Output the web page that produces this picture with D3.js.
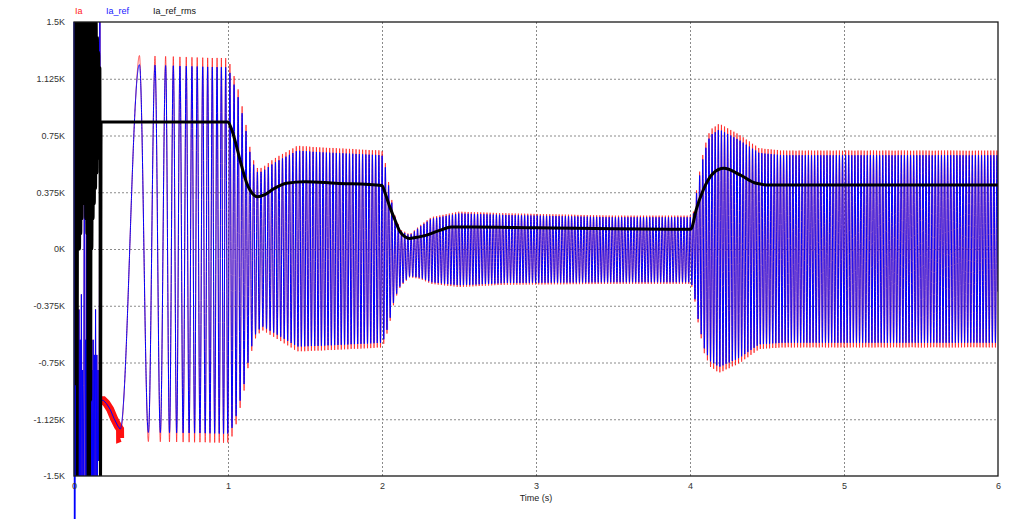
<!DOCTYPE html>
<html><head><meta charset="utf-8">
<script src="https://cdn.jsdelivr.net/npm/d3@7"></script>
<style>
body{margin:0;background:#fff;}
svg{display:block;font-family:Arial,"Liberation Sans",sans-serif;}
</style>
</head><body>
<svg id="c" width="1024" height="519"></svg>
<script>
// ---------- data ----------
const seriesNames = ["Ia", "Ia_ref", "Ia_ref_rms"];
const xTickValues = [0, 1, 2, 3, 4, 5, 6];
const xTickLabels = ["0", "1", "2", "3", "4", "5", "6"];
const yTickValues = [-1.5, -1.125, -0.75, -0.375, 0, 0.375, 0.75, 1.125, 1.5];
const yTickLabels = ["-1.5K", "-1.125K", "-0.75K", "-0.375K", "0K", "0.375K", "0.75K", "1.125K", "1.5K"];
const xTitle = "Time (s)";

// start-up transient (kA), sampled every 4 ms from t = 0
const earlyStep = 0.004;
const earlyRefV = [1.6, -3.5, -0.9, -1.6, -0.5, -1.6, -0.8, -1.6, -0.4, -1.5, -0.6, -1.6, -0.3, -1.5, -0.8, -1.6,
                   -0.9, 1.6, -1.6, -0.6, -1.5, 1.6, -1.6, -0.5, -1.6, -0.8, -1.5, -0.3, -1.6, -0.8, -1.5, -0.6,
                   -1.6, -0.7, -1.5, -0.4, -1.6, -0.7, -1.5, -0.8, -1.4, -0.9, 1.6, -1.6, -1.0];
const earlyRmsV = [1.6, -1.6, 1.6, -1.6, 1.6, -1.6, 1.6, 0.1, 1.6, 0.0, 1.6, 0.1, 1.6, 0.2, 1.6, 0.3,
                   1.6, 0.4, 1.6, 0.2, 1.6, 0.1, 1.6, -1.6, 1.6, -1.6, 1.6, -1.0, 1.6, 0.0, 1.6, 0.2,
                   1.6, 0.3, 1.6, 0.4, 1.5, 0.5, 1.4, 0.6, 1.3, 0.7, 1.2, -1.6];

// slow segment of the current before oscillation starts
const iaEarlyT = [0.176, 0.19, 0.21, 0.235, 0.26, 0.285, 0.299];
const iaEarlyV = [-1.0, -1.0, -1.02, -1.06, -1.12, -1.17, -1.19];

// time of each read peak (cycle count) during the acceleration
const cycT = [0.299, 0.425, 0.483, 0.526, 0.595, 0.645, 0.688, 0.729, 0.766, 0.800, 0.836, 0.868, 0.898, 0.929, 0.957, 0.985];
const cycN = [-0.5, 0, 0.5, 1, 2, 3, 4, 5, 6, 7, 8, 9, 10, 11, 12, 13];
// electrical frequency afterwards (Hz)
const freqT = [0.985, 1.2, 1.5, 2.5, 6.0];
const freqHz = [36, 42, 46, 49, 50];

// envelope of the current (kA)
const envT = [0.299, 0.35, 1.0, 1.035, 1.07, 1.11, 1.14, 1.18, 1.22, 1.3, 1.45, 1.6, 2.0, 2.02, 2.05, 2.08, 2.12, 2.18, 2.25, 2.32,
              2.5, 2.8, 3.5, 4.0, 4.02, 4.05, 4.09, 4.13, 4.19, 4.32, 4.45, 4.6, 6.0];
const envUpper = [1.19, 1.22, 1.2, 1.1, 0.99, 0.82, 0.65, 0.51, 0.51, 0.57, 0.65, 0.64, 0.62, 0.55, 0.38, 0.22, 0.12, 0.09, 0.15, 0.2,
                  0.235, 0.225, 0.21, 0.21, 0.22, 0.42, 0.63, 0.75, 0.79, 0.72, 0.635, 0.62, 0.62];
const envLower = [-1.19, -1.21, -1.22, -1.17, -1.04, -0.87, -0.69, -0.56, -0.51, -0.555, -0.645, -0.64, -0.62, -0.58, -0.47, -0.33, -0.24, -0.18, -0.19, -0.22,
                  -0.24, -0.225, -0.22, -0.22, -0.25, -0.45, -0.65, -0.74, -0.78, -0.72, -0.63, -0.62, -0.62];
const iaTipOvershoot = 0.05;   // Ia peaks exceed Ia_ref slightly

// rms of the reference (kA)
const rmsT = [0.176, 1.0, 1.02, 1.05, 1.08, 1.12, 1.16, 1.19, 1.24, 1.3, 1.38, 1.5, 1.7, 2.0, 2.02, 2.05, 2.085, 2.12, 2.18, 2.24,
              2.3, 2.38, 2.45, 2.6, 3.0, 4.0, 4.01, 4.04, 4.086, 4.15, 4.22, 4.325, 4.43, 4.52, 6.0];
const rmsV = [0.84, 0.84, 0.8, 0.7, 0.58, 0.44, 0.365, 0.345, 0.36, 0.4, 0.435, 0.445, 0.435, 0.42, 0.37, 0.28, 0.19, 0.11, 0.07, 0.08,
              0.095, 0.125, 0.145, 0.145, 0.14, 0.13, 0.137, 0.258, 0.39, 0.5, 0.533, 0.49, 0.434, 0.423, 0.423];

// ---------- build series ----------
const lin = (ts, vs) => d3.scaleLinear().domain(ts).range(vs).clamp(true);
const upF = lin(envT, envUpper), loF = lin(envT, envLower), cycF = lin(cycT, cycN), fF = lin(freqT, freqHz);

const refPts = earlyRefV.map((v, i) => [i * earlyStep, v]);
const iaPts = earlyRefV.map((v, i) => [i * earlyStep, v]);
iaEarlyT.forEach((t, i) => { refPts.push([t, iaEarlyV[i]]); iaPts.push([t, iaEarlyV[i]]); });
const dt = 0.0004;
let c = cycN[cycN.length - 1], tp = cycT[cycT.length - 1];
for (let t = 0.299 + dt; t <= 6.0 + 1e-9; t += dt) {
  let cy;
  if (t <= tp) cy = cycF(t);
  else { c += fF((t + tp) / 2) * (t - tp); tp = t; cy = c; }
  const u = upF(t), l = loF(t), mid = (u + l) / 2, half = (u - l) / 2;
  const k = Math.cos(2 * Math.PI * cy);
  refPts.push([t, mid + half * k]);
  iaPts.push([t, mid + half * (k + iaTipOvershoot * Math.pow(k, 15))]);
}
const rmsPts = earlyRmsV.map((v, i) => [i * earlyStep, v]).concat(rmsT.map((t, i) => [t, rmsV[i]]));

// ---------- draw ----------
const L = 74, R = 998, T = 22, B = 476;
const svg = d3.select("#c");
const x = d3.scaleLinear().domain([0, 6]).range([L, R]);
const y = d3.scaleLinear().domain([-1.5, 1.5]).range([B, T]);

const defs = svg.append("defs");
defs.append("clipPath").attr("id", "plot").append("rect").attr("x", L).attr("y", T).attr("width", R - L).attr("height", B - T);
defs.append("clipPath").attr("id", "low").append("rect").attr("x", L - 1).attr("y", T).attr("width", 3).attr("height", 519 - T);

// grid
const gx = svg.append("g").attr("transform", `translate(0,${B})`)
  .call(d3.axisBottom(x).tickValues(xTickValues.slice(1, -1)).tickSize(-(B - T)).tickFormat(""));
const gy = svg.append("g").attr("transform", `translate(${L},0)`)
  .call(d3.axisLeft(y).tickValues(yTickValues.slice(1, -1)).tickSize(-(R - L)).tickFormat(""));
[gx, gy].forEach(g => {
  g.select(".domain").remove();
  g.selectAll(".tick line").attr("stroke", "#8a8a8a").attr("stroke-width", 1).attr("stroke-dasharray", "2,2");
});

const line = d3.line().x(d => x(d[0])).y(d => y(d[1]));
const plot = svg.append("g").attr("clip-path", "url(#plot)");

// Ia (red) with ripple band before oscillation
plot.append("path").attr("d", line(iaPts.filter(d => d[0] >= 0.176 && d[0] <= 0.30)))
  .attr("fill", "none").attr("stroke", "#ff1010").attr("stroke-width", 8).attr("stroke-linecap", "butt");
plot.append("path").attr("d", line(iaPts)).attr("fill", "none").attr("stroke", "#ff1010").attr("stroke-width", 0.7);
// Ia_ref (blue)
plot.append("path").attr("d", line(refPts)).attr("fill", "none").attr("stroke", "#0000ff").attr("stroke-width", 1);
svg.append("g").attr("clip-path", "url(#low)").append("path").attr("d", line(refPts.slice(0, 3)))
  .attr("fill", "none").attr("stroke", "#0000ff").attr("stroke-width", 1.2);
// rms (black)
plot.append("path").attr("d", line.curve(d3.curveMonotoneX)(rmsPts)).attr("fill", "none")
  .attr("stroke", "#000").attr("stroke-width", 3).attr("stroke-linejoin", "round");

// frame
svg.append("rect").attr("x", L).attr("y", T).attr("width", R - L).attr("height", B - T)
  .attr("fill", "none").attr("stroke", "#1a1a1a").attr("stroke-width", 1.3);

// axis labels
const ax = svg.append("g").attr("transform", `translate(0,${B})`)
  .call(d3.axisBottom(x).tickValues(xTickValues).tickSize(0).tickPadding(7).tickFormat((d, i) => xTickLabels[i]));
const ay = svg.append("g").attr("transform", `translate(${L},0)`)
  .call(d3.axisLeft(y).tickValues(yTickValues).tickSize(0).tickPadding(9).tickFormat((d, i) => yTickLabels[i]));
[ax, ay].forEach(g => {
  g.select(".domain").remove();
  g.selectAll("text").attr("font-size", 9).attr("fill", "#333").attr("font-family", "Arial, 'Liberation Sans', sans-serif");
});
svg.append("text").attr("x", (x(2.5) + x(3.5)) / 2).attr("y", 501).attr("text-anchor", "middle")
  .attr("font-size", 9).attr("fill", "#222").text(xTitle);

// legend
const legendX = [75, 106, 153];
const legendColors = ["#ff2020", "#2020ff", "#111"];
svg.selectAll("text.lg").data(seriesNames).enter().append("text").attr("class", "lg")
  .attr("x", (d, i) => legendX[i]).attr("y", 14).attr("font-size", 9)
  .attr("fill", (d, i) => legendColors[i]).text(d => d);
</script>
</body></html>
